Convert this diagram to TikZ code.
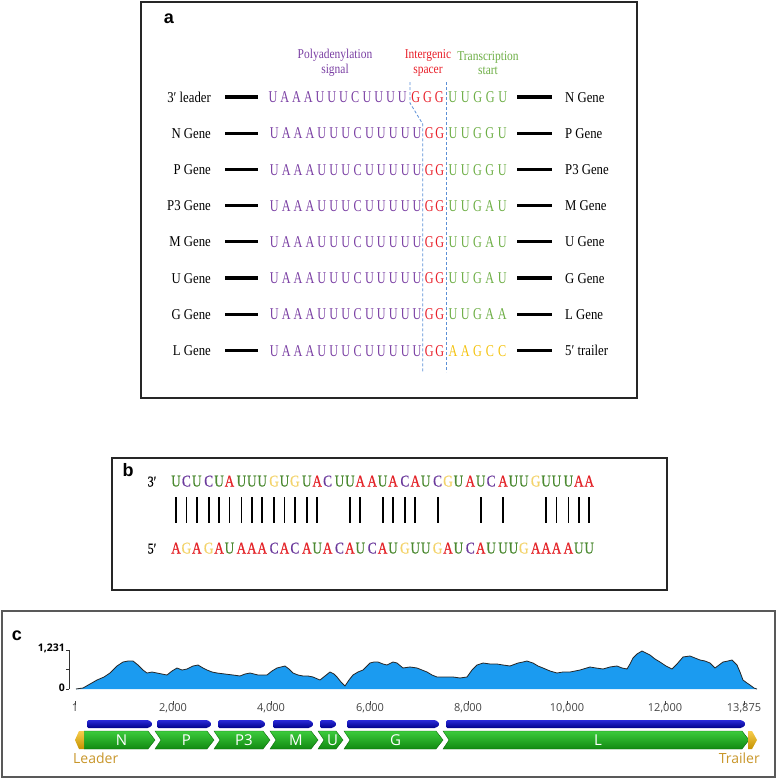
\documentclass[tikz,border=0pt]{standalone}
\usepackage{fontspec}
\setmainfont{Liberation Serif}
\newfontfamily\condlab[FakeStretch=0.85]{Liberation Serif}
\newfontfamily\condseq[FakeStretch=0.74]{Liberation Serif}
\newfontfamily\condb[FakeStretch=0.8,FakeBold=0.6]{Liberation Serif}
\newfontfamily\osans{Open Sans}
\newfontfamily\helv{Liberation Sans}
\usetikzlibrary{calc}
\definecolor{seqpurple}{HTML}{7A3FA3}
\definecolor{seqred}{HTML}{E8202A}
\definecolor{seqgreen}{HTML}{6DAE45}
\definecolor{seqyellow}{HTML}{F4C20D}
\definecolor{bA}{HTML}{E32227}
\definecolor{bU}{HTML}{4C8A32}
\definecolor{bC}{HTML}{6B3A9C}
\definecolor{bG}{HTML}{F3D36B}
\definecolor{dashblue}{HTML}{5B8FD6}
\definecolor{covblue}{HTML}{1B9BF0}
\definecolor{genetop}{HTML}{3CCB3C}
\definecolor{genebot}{HTML}{118A11}
\definecolor{genedark}{HTML}{0A6A0A}
\definecolor{bartop}{HTML}{2A2ADA}
\definecolor{barbot}{HTML}{00008A}
\definecolor{leadorange}{HTML}{C8962A}
\definecolor{leadfill}{HTML}{F5B700}
\definecolor{ticktext}{HTML}{444444}

\newcommand\rowy{36.2}
\newcommand\seqrowstd[3]{%
  \pgfmathsetmacro\yy{97+\rowy*#1+5.6}
  \foreach \l [count=\i from 0] in {U,A,A,A,U,U,U,C,U,U,U,U,U} {\node[seqA,text=seqpurple] (s#1p\i) at ({274.3+11.9*\i},\yy) {\l};}
  \foreach \l [count=\i from 0] in {G,G} {\node[seqA,text=seqred] (s#1r\i) at ({429.3+10.5*\i},\yy) {\l};}
  \foreach \l [count=\i from 0] in {#2} {\node[seqA,text=#3] (s#1g\i) at ({453+12.3*\i},\yy) {\l};}
}
\newcommand\rowlabels[3]{%
  \pgfmathsetmacro\yy{97+\rowy*#1}
  \pgfmathsetmacro\yb{97+\rowy*#1+5}
  \node[lab, anchor=base east] (L#1) at (211,\yb) {#2};
  \node[lab, anchor=base west] (R#1) at (565,\yb) {#3};
  \coordinate (lba#1) at (225,\yy); \coordinate (lbb#1) at (258,\yy);
  \coordinate (rba#1) at (517,\yy); \coordinate (rbb#1) at (552,\yy);
  \draw[rowbar] (lba#1) -- (lbb#1);
  \draw[rowbar] (rba#1) -- (rbb#1);
}
\newcommand\genearr[5]{% x1 x2 label notch name
  \shade[top color=genetop, bottom color=genebot, draw=genedark, line width=0.4pt]
    (#1,731) -- ({#2-7},731) -- (#2,740) -- ({#2-7},749) -- (#1,749) -- ({#1+6*#4},740) -- cycle;
  \node[genelab] (#5) at ({(#1+#2)/2+2},740) {#3};
}
\newcommand\bluebar[2]{%
  \shade[top color=bartop, bottom color=barbot, rounded corners=1.5pt]
    (#1,720) -- ({#2-4},720) -- (#2,724) -- ({#2-4},728) -- (#1,728) -- cycle;
}

\begin{document}
\begin{tikzpicture}[x=1pt,y=-1pt,
  boxline/.style={draw=black!85, line width=1.2pt},
  rowbar/.style={line width=3.3pt, black},
  lab/.style={font=\condlab\fontsize{15}{17}\selectfont, inner sep=0pt},
  head/.style={font=\condlab\fontsize{13.5}{14.5}\selectfont, inner sep=0pt, align=center},
  seqA/.style={font=\condseq\fontsize{16.5}{18}\selectfont, inner sep=0pt, anchor=base},
  bseq/.style={font=\condb\fontsize{16.5}{18}\selectfont, inner sep=0pt, anchor=base},
  panellab/.style={font=\helv\bfseries\fontsize{18}{20}\selectfont, inner sep=0pt},
  dashline/.style={draw=dashblue, line width=0.8pt, dash pattern=on 3pt off 2pt},
  pairbar/.style={line width=1.8pt, black},
  genelab/.style={font=\osans\fontsize{15}{17}\selectfont, text=white, inner sep=0pt},
  xtick/.style={font=\osans\fontsize{11}{13}\selectfont, text=ticktext, inner sep=0pt},
]
\useasboundingbox (0,0) rectangle (778,779);

% ================= panel a =================
\draw[boxline] (141,2) rectangle (637,398);
\node[panellab] (pa) at (169,19) {a};
\node[head, text=seqpurple] (hpoly) at (335,63) {Polyadenylation\\signal};
\node[head, text=seqred] (hinter) at (428,63) {Intergenic\\spacer};
\node[head, text=seqgreen] (htrans) at (488,63) {Transcription\\start};

% dashed guides
\coordinate (d1a) at (410,82); \coordinate (d1b) at (410,103);
\coordinate (d1c) at (422.7,124); \coordinate (d1d) at (422.7,372);
\coordinate (d2a) at (446.7,82); \coordinate (d2d) at (446.7,372);
\draw[dashline] (d1a) -- (d1b) -- (d1c) -- (d1d);
\draw[dashline] (d2a) -- (d2d);

\rowlabels{0}{3′ leader}{N Gene}
\rowlabels{1}{N Gene}{P Gene}
\rowlabels{2}{P Gene}{P3 Gene}
\rowlabels{3}{P3 Gene}{M Gene}
\rowlabels{4}{M Gene}{U Gene}
\rowlabels{5}{U Gene}{G Gene}
\rowlabels{6}{G Gene}{L Gene}
\rowlabels{7}{L Gene}{5′ trailer}

% row 0
\foreach \l [count=\i from 0] in {U,A,A,A,U,U,U,C,U,U,U,U} {\node[seqA,text=seqpurple] (s0p\i) at ({273+11.75*\i},102.6) {\l};}
\foreach \l [count=\i from 0] in {G,G,G} {\node[seqA,text=seqred] (s0r\i) at ({415.7+11.8*\i},102.6) {\l};}
\foreach \l [count=\i from 0] in {U,U,G,G,U} {\node[seqA,text=seqgreen] (s0g\i) at ({452.7+12.5*\i},102.6) {\l};}
\seqrowstd{1}{U,U,G,G,U}{seqgreen}
\seqrowstd{2}{U,U,G,G,U}{seqgreen}
\seqrowstd{3}{U,U,G,A,U}{seqgreen}
\seqrowstd{4}{U,U,G,A,U}{seqgreen}
\seqrowstd{5}{U,U,G,A,U}{seqgreen}
\seqrowstd{6}{U,U,G,A,A}{seqgreen}
\seqrowstd{7}{A,A,G,C,C}{seqyellow}

% ================= panel b =================
\draw[boxline] (112,458) rectangle (667,590);
\node[panellab] (pb) at (128,470) {b};
\node[font=\condb\fontsize{15}{17}\selectfont, inner sep=0pt, anchor=base] (p3) at (152,486.5) {3′};
\node[font=\condb\fontsize{15}{17}\selectfont, inner sep=0pt, anchor=base] (p5) at (152,553.5) {5′};
\foreach \l [count=\p from 0] in {U,C,U,C,U,A,U,U,U,G,U,G,U,A,C,U,U,A,A,U,A,C,A,U,C,G,U,A,U,C,A,U,U,G,U,U,U,A,A} {
  \pgfmathsetmacro\xx{176+32.7*floor(\p/3)+10.4*mod(\p,3)}
  \node[bseq, text=b\l] (t\p) at (\xx,486.5) {\l};
}
\foreach \l [count=\p from 0] in {A,G,A,G,A,U,A,A,A,C,A,C,A,U,A,C,A,U,C,A,U,G,U,U,G,A,U,C,A,U,U,U,G,A,A,A,A,U,U} {
  \pgfmathsetmacro\xx{176+32.7*floor(\p/3)+10.4*mod(\p,3)}
  \node[bseq, text=b\l] (f\p) at (\xx,553.5) {\l};
}
\coordinate (bartopy) at (0,497);
\coordinate (barboty) at (0,523);
\foreach \p in {0,1,2,3,4,5,6,7,8,9,10,11,12,13,16,17,19,20,21,22,24,28,30,34,35,36,37,38} {
  \draw[pairbar] (t\p |- bartopy) -- (f\p |- barboty);
}

% ================= panel c =================
\draw[draw=black!65, line width=1.2pt] (2,611) rectangle (775,777);
\node[panellab] (pc) at (17,636) {c};
% y axis
\coordinate (ya) at (69,650); \coordinate (yb) at (69,689);
\draw[black!80, line width=0.6pt] (ya) -- (yb);
\draw[black!80, line width=0.6pt] (66,650) -- (69,650) (66,669.5) -- (69,669.5) (66,689) -- (69,689);
\node[font=\osans\bfseries\fontsize{10.5}{12}\selectfont, anchor=east, inner sep=0pt] (ymax) at (65,648) {1,231};
\node[font=\osans\bfseries\fontsize{10.5}{12}\selectfont, anchor=east, inner sep=0pt] (ymin) at (65,688) {0};
% coverage
\def\covpts{(76,689) (83,688) (90,684) (97,680) (104,677) (110,673) (114,669) (117,666) (123,662) (128,661) (133,661) (138,665) (143,670) (147,673) (152,672) (157,673) (162,674) (167,675) (172,671) (177,668) (182,670) (187,669) (193,666) (198,665) (203,668) (207,670) (212,672) (217,673) (225,674) (233,675) (240,676) (245,674) (250,673) (258,675) (267,675) (272,671) (277,668) (285,666) (289,669) (293,673) (298,675) (303,676) (308,676) (313,677) (320,680) (325,676) (330,672) (334,674) (337,677) (341,682) (345,686) (349,680) (353,675) (358,672) (363,670) (367,666) (370,663) (374,662) (378,662) (383,664) (387,665) (393,662) (397,663) (403,668) (410,667) (417,668) (422,670) (427,672) (432,675) (437,677) (445,677) (453,677) (460,678) (467,677) (472,670) (477,665) (483,663) (490,664) (497,664) (503,665) (510,666) (518,663) (523,662) (527,661) (533,663) (538,666) (543,668) (550,671) (557,673) (563,672) (570,672) (580,670) (590,667) (596,668) (603,669) (610,667) (617,666) (622,668) (627,669) (630,664) (633,658) (637,654) (642,651) (646,653) (650,655) (655,659) (660,662) (666,666) (672,669) (677,664) (683,657) (690,656) (695,658) (700,660) (705,661) (710,663) (715,668) (719,665) (723,662) (728,661) (732,660) (737,665) (740,672) (743,680) (747,683) (750,685) (754,688) (757,689)}
\fill[covblue] plot[sharp plot] coordinates {\covpts} -- cycle;
\draw[black!85, line width=0.8pt, line join=round] plot[sharp plot] coordinates {\covpts};
% x axis labels
\foreach \xv/\tx/\nm in {75/1/k1, 173/{2,000}/k2, 271/{4,000}/k4, 370/{6,000}/k6, 468/{8,000}/k8, 567/{10,000}/k10, 665/{12,000}/k12, 744/{13,875}/k13} {
  \node[xtick] (\nm) at (\xv,708) {\tx};
  \draw[ticktext, line width=0.5pt] (\xv,701) -- (\xv,704.5);
}
% blue bars
\bluebar{87}{153}
\bluebar{157}{212}
\bluebar{218}{266}
\bluebar{273}{314}
\bluebar{320}{337}
\bluebar{347}{440}
\bluebar{446}{746}
% genes
\genearr{84}{155}{N}{0}{gN}
\genearr{155}{214}{P}{1}{gP}
\genearr{214}{270}{P3}{1}{gP3}
\genearr{270}{318}{M}{1}{gM}
\genearr{318}{343}{U}{1}{gU}
\genearr{344}{443}{G}{1}{gG}
\genearr{443}{749}{L}{1}{gL}
% leader / trailer
\shade[top color=leadfill!70!white, bottom color=leadfill!80!black] (84,731) -- (79,731) -- (75,740) -- (79,749) -- (84,749) -- cycle;
\shade[top color=leadfill!70!white, bottom color=leadfill!80!black] (748,731) -- (752,731) -- (757,740) -- (752,749) -- (748,749) -- cycle;
\node[font=\osans\fontsize{14}{16}\selectfont, text=leadorange, anchor=west, inner sep=0pt] (tlead) at (73,758) {Leader};
\node[font=\osans\fontsize{14}{16}\selectfont, text=leadorange, anchor=east, inner sep=0pt] (ttrail) at (760,758) {Trailer};
\end{tikzpicture}
\end{document}
